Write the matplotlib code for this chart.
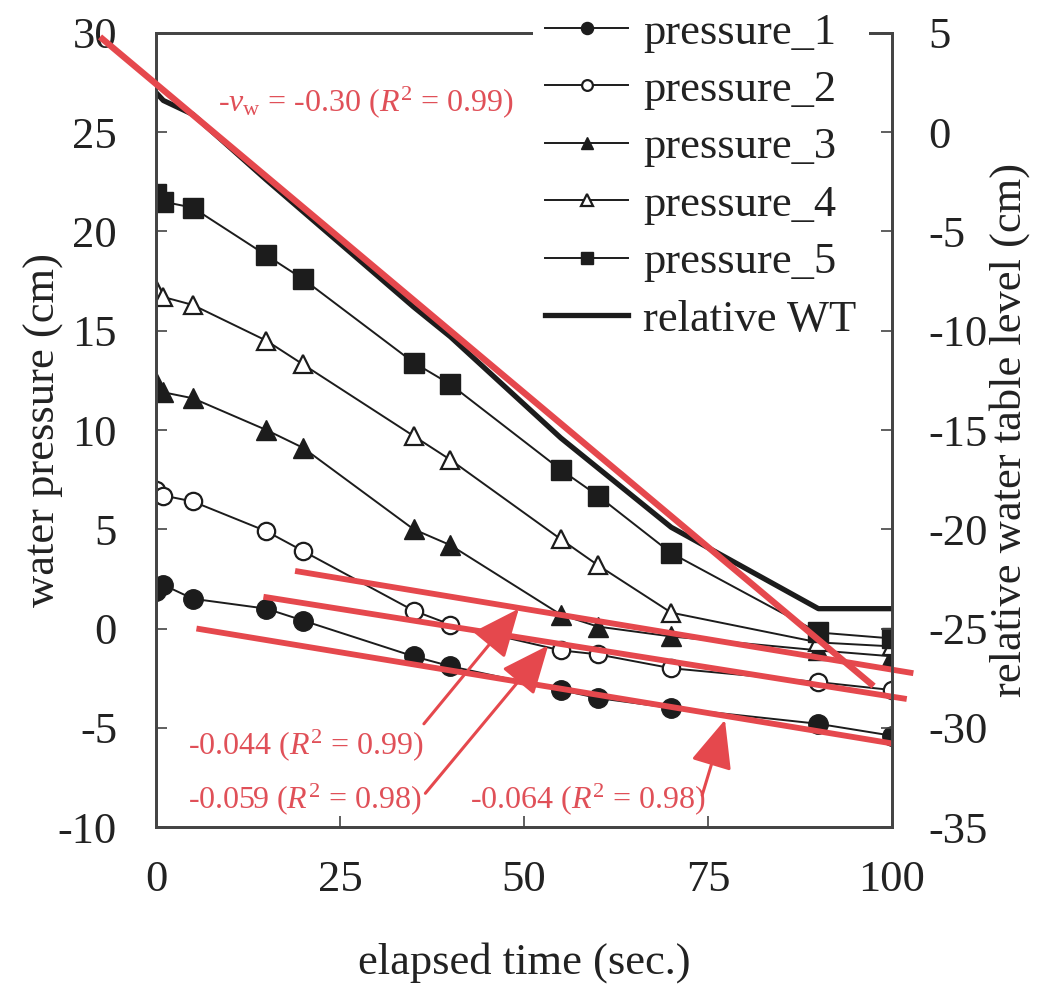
import matplotlib
matplotlib.use('Agg')
import matplotlib.pyplot as plt

# ---------------- data ----------------
time_s = [0, 1, 5, 15, 20, 35, 40, 55, 60, 70, 90, 100]
pressure_1 = [1.9, 2.2, 1.5, 1.0, 0.4, -1.4, -1.9, -3.1, -3.5, -4.0, -4.8, -5.4]
pressure_2 = [7.0, 6.7, 6.4, 4.9, 3.9, 0.9, 0.2, -1.1, -1.3, -2.0, -2.7, -3.1]
pressure_3 = [12.4, 11.9, 11.6, 10.0, 9.1, 5.0, 4.2, 0.7, 0.1, -0.4, -1.1, -1.4]
pressure_4 = [17.1, 16.7, 16.3, 14.5, 13.3, 9.7, 8.5, 4.5, 3.2, 0.8, -0.7, -0.9]
pressure_5 = [21.9, 21.5, 21.2, 18.8, 17.6, 13.4, 12.3, 8.0, 6.7, 3.8, -0.2, -0.5]
relative_wt = [2.0, 1.6, 0.9, -2.4, -4.0, -8.8, -10.3, -15.4, -16.9, -19.9, -24.0, -24.0]
series_labels = ['pressure_1', 'pressure_2', 'pressure_3', 'pressure_4',
                 'pressure_5', 'relative WT']

# fitted (red) lines: [start, end]
fit_wt_t = [-7.6, 97.5]
fit_wt_v = [4.8, -27.9]
fit_a_t = [18.9, 102.9]
fit_a_v = [2.9, -2.25]
fit_b_t = [14.6, 102.0]
fit_b_v = [1.6, -3.55]
fit_c_t = [5.5, 100.2]
fit_c_v = [0.0, -5.8]
fit_labels = ['-0.044 ($R^2$ = 0.99)', '-0.059 ($R^2$ = 0.98)',
              '-0.064 ($R^2$ = 0.98)']
wt_fit_label = r'-$v_\mathrm{w}$ = -0.30 ($R^2$ = 0.99)'

# annotation anchors (data coords, left axis)
label_xy = [(4.3, -5.85), (4.3, -8.6), (42.7, -8.6)]
arrow_tail = [(36.4, -4.8), (36.6, -8.3), (74.2, -8.4)]
arrow_tip = [(49.3, 1.0), (53.3, -0.85), (77.3, -4.6)]
wt_label_xy = (8.4, 26.5)

# ---------------- style ----------------
plt.rcParams['font.family'] = ['Liberation Serif', 'DejaVu Serif']
plt.rcParams['mathtext.fontset'] = 'custom'
plt.rcParams['mathtext.rm'] = 'Liberation Serif'
plt.rcParams['mathtext.it'] = 'Liberation Serif:italic'
plt.rcParams['axes.unicode_minus'] = False

RED = '#e5484d'
RED_TXT = '#e05058'
BLK = '#1c1c1c'
SPINE = '#444444'
TXT = '#222222'
FS = 32

fig = plt.figure(figsize=(10.37, 9.9), dpi=100)
ax = fig.add_axes([0.1504, 0.1646, 0.7098, 0.8021])
ax2 = ax.twinx()

lw = 1.4
h1, = ax.plot(time_s, pressure_1, '-', color=BLK, lw=lw, marker='o', ms=14,
              mfc=BLK, mec=BLK)
h2, = ax.plot(time_s, pressure_2, '-', color=BLK, lw=lw, marker='o', ms=12.5,
              mfc='white', mec=BLK, mew=1.6)
h3, = ax.plot(time_s, pressure_3, '-', color=BLK, lw=lw, marker='^', ms=14,
              mfc=BLK, mec=BLK)
h4, = ax.plot(time_s, pressure_4, '-', color=BLK, lw=lw, marker='^', ms=13.5,
              mfc='white', mec=BLK, mew=1.6)
h5, = ax.plot(time_s, pressure_5, '-', color=BLK, lw=lw, marker='s', ms=14.5,
              mfc=BLK, mec=BLK)
h6, = ax2.plot(time_s, relative_wt, '-', color=BLK, lw=3.8)

# red fit lines
for ft, fv in [(fit_a_t, fit_a_v), (fit_b_t, fit_b_v), (fit_c_t, fit_c_v)]:
    ax.plot(ft, fv, color=RED, lw=4.2, clip_on=False, zorder=6,
            solid_capstyle='butt')
ax2.plot(fit_wt_t, fit_wt_v, color=RED, lw=4.6, clip_on=False, zorder=6,
         solid_capstyle='butt')

# labels + arrows
for txt, xy in zip(fit_labels, label_xy):
    ax.text(xy[0], xy[1], txt, color=RED_TXT, fontsize=23, ha='left',
            va='center', zorder=7)
for tail, tip in zip(arrow_tail, arrow_tip):
    ax.annotate('', xy=tip, xytext=tail,
                arrowprops=dict(arrowstyle='-|>,head_length=1.5,head_width=0.65',
                                color=RED, lw=2.2, mutation_scale=20,
                                shrinkA=0, shrinkB=0),
                annotation_clip=False, zorder=7)
ax.text(wt_label_xy[0], wt_label_xy[1], wt_fit_label, color=RED_TXT,
        fontsize=23, ha='left', va='center', zorder=7)

# axes
ax.set_xlim(0, 100)
ax.set_ylim(-10, 30)
ax2.set_ylim(-35, 5)
ax.set_xticks([0, 25, 50, 75, 100])
ax.set_yticks(range(-10, 31, 5))
ax2.set_yticks(range(-35, 6, 5))

ax.tick_params(axis='both', direction='in', length=8, width=1.2,
               colors=SPINE, labelcolor=TXT, labelsize=FS)
ax.tick_params(axis='y', pad=28)
ax.tick_params(axis='x', pad=24)
ax.tick_params(right=False, top=False)
ax2.tick_params(axis='y', direction='in', length=8, width=1.2, colors=SPINE,
                labelcolor=TXT, labelsize=FS, pad=26)

for a in (ax, ax2):
    for s in a.spines.values():
        s.set_color(SPINE)
        s.set_linewidth(2.0)

ax.set_xlabel('elapsed time (sec.)', fontsize=FS, color=TXT, labelpad=30)
ax.set_ylabel('water pressure (cm)', fontsize=FS, color=TXT)
ax.yaxis.set_label_coords(-0.125, 0.5)
ax2.set_ylabel('relative water table level (cm)', fontsize=FS, color=TXT)
ax2.yaxis.set_label_coords(1.132, 0.5)

leg = ax2.legend([h1, h2, h3, h4, h5, h6], series_labels,
                 loc='upper left', bbox_to_anchor=(533 / 1037, 1.0),
                 bbox_transform=fig.transFigure, borderaxespad=0,
                 borderpad=0.28, fontsize=FS, frameon=True, fancybox=False,
                 handlelength=1.85, handletextpad=0.35, labelspacing=0.39,
                 markerscale=0.62)
leg.get_frame().set_facecolor('white')
leg.get_frame().set_edgecolor('none')
leg.get_frame().set_alpha(1.0)
for t in leg.get_texts():
    t.set_color(TXT)

fig.savefig('out.png', dpi=100)
